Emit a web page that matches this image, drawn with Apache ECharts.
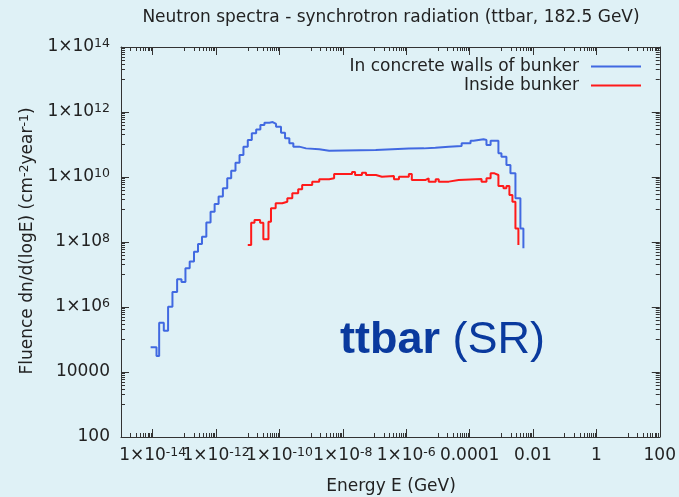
<!DOCTYPE html>
<html>
<head>
<meta charset="utf-8">
<script src="https://cdn.jsdelivr.net/npm/echarts@6/dist/echarts.min.js"></script>
<style>
html,body{margin:0;padding:0;background:#dff1f6;}
#c{width:679px;height:497px;}
</style>
</head>
<body>
<div id="c"></div>
<script>
// ---- Data ----
// Bin left edges (last entry = right edge of the last bin), energies in GeV
const blueE = [8.6e-15, 1.32e-14, 1.6e-14, 2.24e-14, 3.06e-14, 4.2e-14, 5.9e-14, 8.1e-14, 1.08e-13, 1.47e-13,
  2.01e-13, 2.69e-13, 3.59e-13, 4.93e-13, 6.7e-13, 9.0e-13, 1.2e-12, 1.64e-12, 2.25e-12, 3.0e-12,
  4.1e-12, 5.5e-12, 7.3e-12, 1.0e-11, 1.34e-11, 1.84e-11, 2.5e-11, 3.35e-11, 4.8e-11, 6.1e-11,
  7.8e-11, 1.12e-10, 1.5e-10, 2.05e-10, 2.74e-10, 4.2e-10, 6.9e-10, 1.8e-9, 3.7e-9, 1.09e-7,
  1.21e-6, 3.6e-6, 8.3e-6, 2.2e-5, 5.6e-5, 1.07e-4, 1.33e-4, 2.75e-4, 3.4e-4, 4.6e-4,
  8.1e-4, 1.01e-3, 1.45e-3, 1.94e-3, 2.79e-3, 4.0e-3, 4.98e-3];
const blueF = [5.8e4, 3.1e4, 3.3e5, 1.87e5, 1.02e6, 2.9e6, 7.1e6, 5.9e6, 1.55e7, 2.5e7,
  5.0e7, 8.7e7, 1.46e8, 4.0e8, 8.6e8, 1.48e9, 2.5e9, 4.5e9, 9.1e9, 1.56e10,
  2.75e10, 4.75e10, 8.6e10, 1.37e11, 2.2e11, 2.9e11, 4.0e11, 4.7e11, 4.9e11, 4.3e11,
  3.5e11, 2.3e11, 1.55e11, 1.09e11, 8.6e10, 7.6e10, 7.1e10, 6.4e10, 6.8e10, 7.5e10,
  7.6e10, 8.0e10, 8.6e10, 9.0e10, 1.09e11, 1.31e11, 1.45e11, 1.37e11, 9.7e10, 1.31e11,
  5.4e10, 4.2e10, 2.34e10, 1.3e10, 2.2e9, 2.6e8];
const blueEndF = 6.4e7;

const redE = [1.0e-11, 1.28e-11, 1.63e-11, 2.45e-11, 3.1e-11, 4.5e-11, 5.4e-11, 7.6e-11, 1.23e-10, 1.77e-10,
  2.54e-10, 3.9e-10, 5.2e-10, 1.08e-9, 1.8e-9, 3.7e-9, 5.3e-9, 1.95e-8, 2.43e-8, 4.0e-8,
  5.4e-8, 1.11e-7, 1.71e-7, 4.1e-7, 5.9e-7, 1.21e-6, 1.5e-6, 4.1e-6, 5.1e-6, 8.5e-6,
  1.06e-5, 2.2e-5, 4.5e-5, 2.38e-4, 3.4e-4, 4.6e-4, 6.1e-4, 8.1e-4, 1.17e-3, 1.45e-3,
  1.8e-3, 2.24e-3, 2.79e-3, 3.46e-3];
const redF = [8.1e7, 3.9e8, 4.75e8, 3.9e8, 1.21e8, 4.2e8, 1.09e9, 1.55e9, 1.74e9, 2.2e9,
  3.15e9, 4.2e9, 5.7e9, 7.2e9, 8.5e9, 9.1e9, 1.24e10, 1.43e10, 1.15e10, 1.36e10,
  1.15e10, 1.02e10, 1.07e10, 8.5e9, 1.02e10, 1.24e10, 8.1e9, 9.1e9, 7.2e9, 8.5e9,
  7.2e9, 8.1e9, 8.7e9, 7.2e9, 9.1e9, 1.3e10, 1.15e10, 5.3e9, 4.5e9, 5.3e9,
  2.8e9, 1.74e9, 2.6e8];
const redEndF = 8.1e7;

const seriesNames = ['In concrete walls of bunker', 'Inside bunker'];

const xTickValues = [1e-14, 1e-12, 1e-10, 1e-8, 1e-6, 1e-4, 1e-2, 1, 100];
const xTickLabels = ['1×10^-14', '1×10^-12', '1×10^-10', '1×10^-8', '1×10^-6', '0.0001', '0.01', '1', '100'];
const yTickValues = [100, 1e4, 1e6, 1e8, 1e10, 1e12, 1e14];
const yTickLabels = ['100', '10000', '1×10^6', '1×10^8', '1×10^10', '1×10^12', '1×10^14'];

const titleText = 'Neutron spectra - synchrotron radiation (ttbar, 182.5 GeV)';
const xName = 'Energy E (GeV)';
const yName = 'Fluence dn/d(logE) (cm^-2year^-1)';

// ---- Helpers ----
function toRich(s) {
  // converts "a^b" pieces into rich text with superscripts
  return '{b|' + s.replace(/\^(-?\d+)/g, '}{s|$1}{b|') + '}';
}
function stepData(E, F, endF) {
  const d = [];
  for (let i = 0; i < F.length; i++) d.push([E[i], F[i]]);
  d.push([E[F.length], F[F.length - 1]]);
  d.push([E[F.length], endF]);
  return d;
}
function minorTicks(lo, hi) {
  const out = [];
  for (let e = lo; e <= hi; e += 2) for (let k = 1; k <= 9; k++) out.push(k * Math.pow(10, e));
  return out;
}
function labelFor(values, labels) {
  return function (v) {
    const lv = Math.log10(v);
    for (let i = 0; i < values.length; i++) {
      if (Math.abs(Math.log10(values[i]) - lv) < 1e-6) return toRich(labels[i]);
    }
    return '';
  };
}

const FONT = 'DejaVu Sans';
const AX = '#333333';
const TXT = '#222222';
const richLabel = {
  b: { fontFamily: FONT, fontSize: 17, color: TXT, lineHeight: 20 },
  s: { fontFamily: FONT, fontSize: 12.5, color: TXT, lineHeight: 12, verticalAlign: 'top' }
};

const xMinor = minorTicks(-15, 1).filter(v => v <= 100.0001);
const yMinor = minorTicks(3, 13);
// split x labels into two alternating sets so neighbouring labels never collide in layout
const xLabelsA = xTickValues.filter((v, i) => i % 2 === 0);
const xLabelsB = xTickValues.filter((v, i) => i % 2 === 1);

function logAxis(opts) {
  const base = {
    type: 'log', logBase: 10,
    splitLine: { show: false },
    axisLine: { show: false, onZero: false, lineStyle: { color: AX, width: 1 } },
    axisTick: { show: false, inside: true, lineStyle: { color: AX, width: 1 } },
    axisLabel: { show: false },
    minorTick: { show: false }
  };
  return Object.assign(base, opts);
}
const xLbl = (vals) => ({ show: true, margin: 9, hideOverlap: false, showMinLabel: true, showMaxLabel: true,
  customValues: vals, formatter: labelFor(xTickValues, xTickLabels), rich: richLabel });

const xMin = 1e-15, xMax = 100, yMin = 100, yMax = 1e14;

const xAxes = [
  logAxis({ position: 'bottom', min: xMin, max: xMax,
    axisLine: { show: true, onZero: false, lineStyle: { color: AX, width: 1 } },
    axisTick: { show: true, inside: true, length: 8, customValues: xTickValues, lineStyle: { color: AX } },
    axisLabel: xLbl(xLabelsA) }),
  logAxis({ position: 'bottom', min: xMin, max: xMax,
    axisTick: { show: true, inside: true, length: 4, customValues: xMinor, lineStyle: { color: AX } },
    axisLabel: xLbl(xLabelsB) }),
  logAxis({ position: 'top', min: xMin, max: xMax,
    axisLine: { show: true, onZero: false, lineStyle: { color: AX, width: 1 } },
    axisTick: { show: true, inside: true, length: 8, customValues: xTickValues, lineStyle: { color: AX } } }),
  logAxis({ position: 'top', min: xMin, max: xMax,
    axisTick: { show: true, inside: true, length: 4, customValues: xMinor, lineStyle: { color: AX } } })
];
const yAxes = [
  logAxis({ position: 'left', min: yMin, max: yMax,
    axisLine: { show: true, onZero: false, lineStyle: { color: AX, width: 1 } },
    axisTick: { show: true, inside: true, length: 8, customValues: yTickValues, lineStyle: { color: AX } },
    axisLabel: { show: true, margin: 11, showMinLabel: true, showMaxLabel: true,
      customValues: yTickValues, formatter: labelFor(yTickValues, yTickLabels), rich: richLabel } }),
  logAxis({ position: 'left', min: yMin, max: yMax,
    axisTick: { show: true, inside: true, length: 4, customValues: yMinor, lineStyle: { color: AX } } }),
  logAxis({ position: 'right', min: yMin, max: yMax,
    axisLine: { show: true, onZero: false, lineStyle: { color: AX, width: 1 } },
    axisTick: { show: true, inside: true, length: 8, customValues: yTickValues, lineStyle: { color: AX } } }),
  logAxis({ position: 'right', min: yMin, max: yMax,
    axisTick: { show: true, inside: true, length: 4, customValues: yMinor, lineStyle: { color: AX } } })
];

const chart = echarts.init(document.getElementById('c'), null, { renderer: 'canvas' });
chart.setOption({
  animation: false,
  backgroundColor: '#dff1f6',
  grid: { left: 121, right: 17, top: 47, bottom: 60, containLabel: false },
  xAxis: xAxes,
  yAxis: yAxes,
  legend: {
    orient: 'vertical', right: 38, top: 57, align: 'right', padding: 0,
    icon: 'rect', itemWidth: 50, itemHeight: 2, itemGap: 0,
    textStyle: { fontFamily: FONT, fontSize: 17, color: TXT, lineHeight: 19, padding: [0, 7, 0, 0] },
    data: seriesNames
  },
  series: [
    { name: seriesNames[0], type: 'line', step: 'end', symbol: 'none', showSymbol: false, xAxisIndex: 0, yAxisIndex: 0,
      color: '#4169e1', lineStyle: { width: 2, color: '#4169e1' }, data: stepData(blueE, blueF, blueEndF) },
    { name: seriesNames[1], type: 'line', step: 'end', symbol: 'none', showSymbol: false, xAxisIndex: 0, yAxisIndex: 0,
      color: '#ff1a1a', lineStyle: { width: 2, color: '#ff1a1a' }, data: stepData(redE, redF, redEndF) }
  ],
  graphic: [
    { type: 'text', x: 391, y: 18, style: { text: titleText, fontFamily: FONT, fontSize: 17, fill: TXT, textAlign: 'center', textVerticalAlign: 'middle' } },
    { type: 'text', x: 391, y: 487, style: { text: xName, fontFamily: FONT, fontSize: 17, fill: TXT, textAlign: 'center', textVerticalAlign: 'middle' } },
    { type: 'text', x: 28, y: 241, rotation: Math.PI / 2,
      style: { text: toRich(yName), rich: richLabel, textAlign: 'center', textVerticalAlign: 'middle', fill: TXT } },
    { type: 'text', x: 340, y: 341,
      style: { text: '{a|ttbar}{c| (SR)}', textAlign: 'left', textVerticalAlign: 'middle',
        rich: {
          a: { fontFamily: 'Liberation Sans', fontWeight: 'bold', fontSize: 45, fill: '#0a3a9e', color: '#0a3a9e' },
          c: { fontFamily: 'Liberation Sans', fontSize: 45, fill: '#0a3a9e', color: '#0a3a9e' }
        } } }
  ]
});
</script>
</body>
</html>
